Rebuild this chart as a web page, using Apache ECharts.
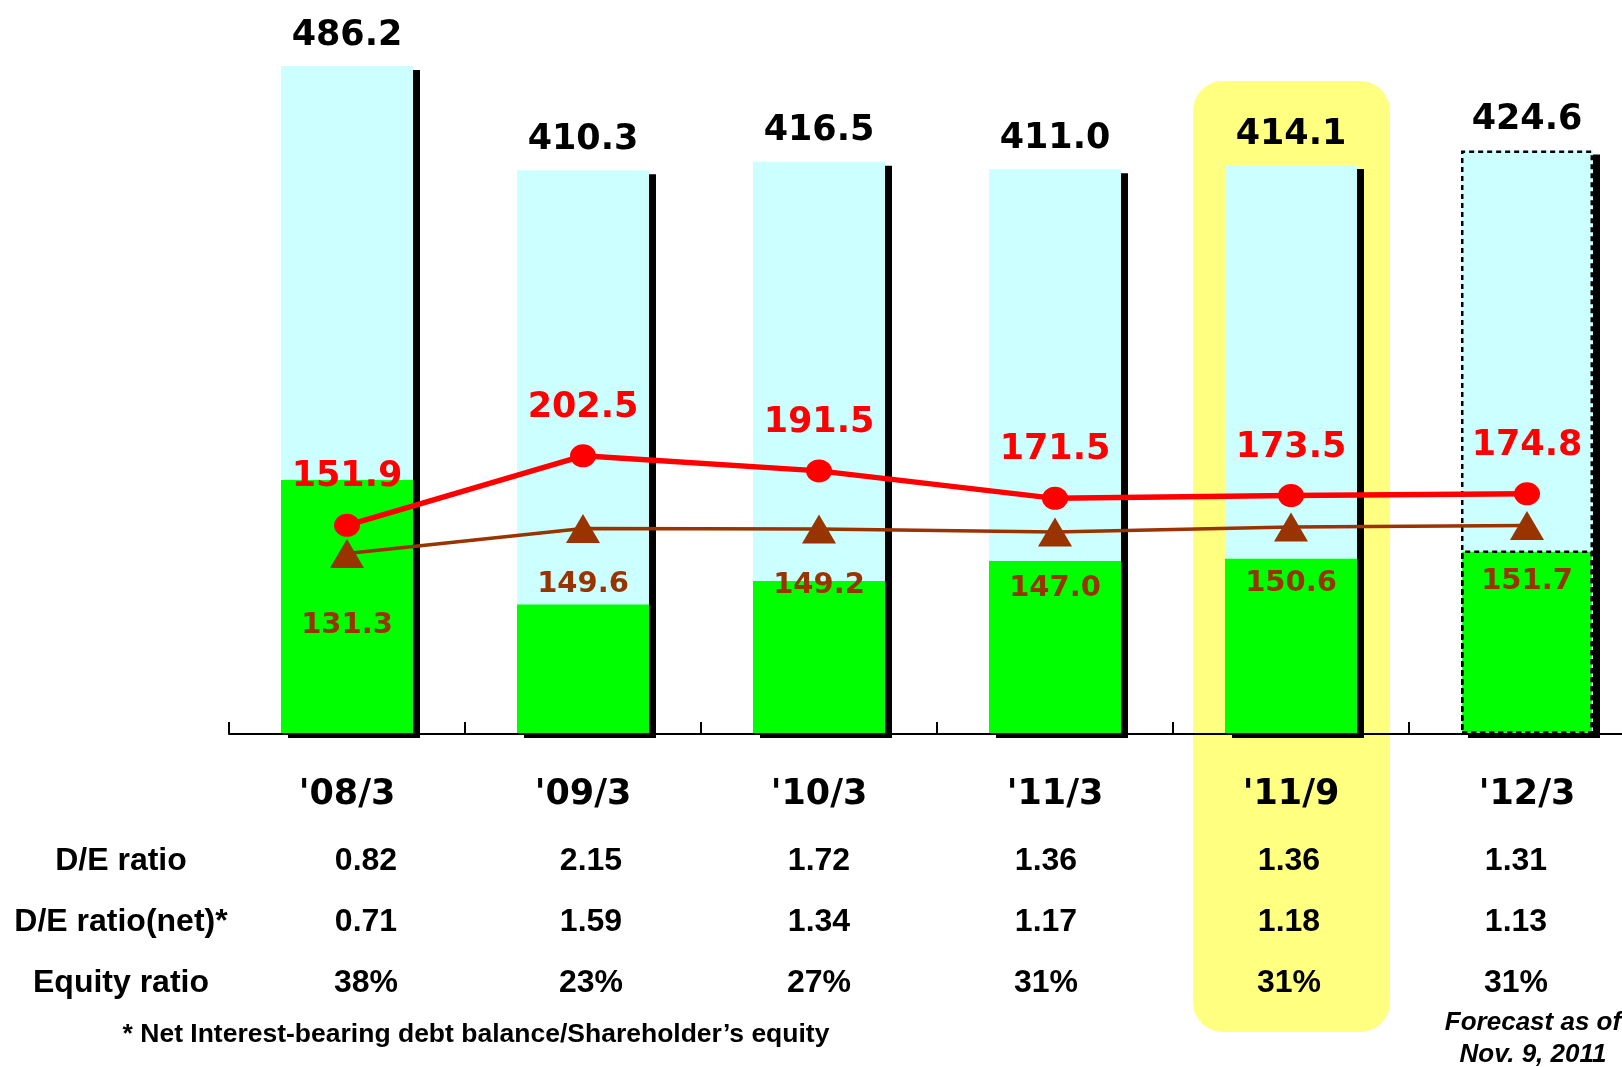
<!DOCTYPE html>
<html>
<head>
<meta charset="utf-8">
<title>Total assets / Interest-bearing debt</title>
<script src="https://cdn.jsdelivr.net/npm/echarts@6/dist/echarts.min.js"></script>
<style>
  html, body { margin: 0; padding: 0; background: #fff; }
  #chart { width: 1622px; height: 1067px; }
</style>
</head>
<body>
<div id="chart"></div>
<script>
// periods on the x axis
const periods = ["'08/3", "'09/3", "'10/3", "'11/3", "'11/9", "'12/3"];
// total assets (whole bar, label on top)
const totalAssets = [486.2, 410.3, 416.5, 411.0, 414.1, 424.6];
// shareholders' equity (green part of the bar)
const equity = [184.8, 94.2, 111.3, 126.0, 127.6, 133.5];
// interest-bearing debt (red line)
const debt = [151.9, 202.5, 191.5, 171.5, 173.5, 174.8];
// net interest-bearing debt (brown line)
const netDebt = [131.3, 149.6, 149.2, 147.0, 150.6, 151.7];
// table under the chart
const rowLabels = ['D/E ratio', 'D/E ratio(net)*', 'Equity ratio'];
const deRatio = ['0.82', '2.15', '1.72', '1.36', '1.36', '1.31'];
const deRatioNet = ['0.71', '1.59', '1.34', '1.17', '1.18', '1.13'];
const equityRatio = ['38%', '23%', '27%', '31%', '31%', '31%'];
const footnote = '* Net Interest-bearing debt balance/Shareholder\u2019s equity';
const forecastNote = ['Forecast as of', 'Nov. 9, 2011'];

const highlightIdx = 4; // '11/9 column sits on the yellow band
const forecastIdx = 5;  // '12/3 is a forecast -> dotted outline

const NUM_FONT = 'DejaVu Sans';
const TXT_FONT = '"Liberation Sans", Arial, sans-serif';
const cyan = '#ccffff';
const green = '#00ff00';
const red = '#ff0000';
const brown = '#993300';

const chart = echarts.init(document.getElementById('chart'));

const dashed = { borderColor: '#000', borderWidth: 2.5, borderType: [5, 4] };
const oneDecimal = p => Number(p.value).toFixed(1);

chart.setOption({
  animation: false,
  grid: { left: 229, width: 1416, top: 47, height: 687, outerBoundsMode: 'none' },
  xAxis: {
    type: 'category',
    data: periods,
    z: 10,
    axisLine: { lineStyle: { color: '#000', width: 2 } },
    axisTick: { show: true, interval: 0, alignWithLabel: false, inside: true, length: 12, lineStyle: { color: '#000', width: 2 } },
    axisLabel: {
      interval: 0,
      margin: 43,
      color: '#000',
      fontFamily: NUM_FONT,
      fontWeight: 'bold',
      fontSize: 35
    }
  },
  yAxis: { type: 'value', min: 0, max: 500, show: false },
  series: [
    {
      name: 'Total assets',
      type: 'bar',
      barWidth: 132,
      barGap: '-100%',
      data: totalAssets,
      itemStyle: { color: cyan, shadowColor: '#000', shadowBlur: 0, shadowOffsetX: 7, shadowOffsetY: 4 },
      label: {
        show: true,
        position: 'top',
        distance: 13,
        formatter: oneDecimal,
        color: '#000',
        fontFamily: NUM_FONT,
        fontWeight: 'bold',
        fontSize: 35
      },
      z: 2
    },
    {
      name: 'Equity',
      type: 'bar',
      barWidth: 132,
      barGap: '-100%',
      data: equity.map((v, i) => (i === forecastIdx ? { value: v, itemStyle: dashed } : v)),
      itemStyle: { color: green },
      z: 3
    },
    {
      // dotted outline of the forecast bar
      name: 'Forecast outline',
      type: 'bar',
      barWidth: 132,
      barGap: '-100%',
      data: totalAssets.map((v, i) => (i === forecastIdx ? v : '-')),
      itemStyle: Object.assign({ color: 'rgba(0,0,0,0)' }, dashed),
      silent: true,
      z: 3
    },
    {
      name: 'Net interest-bearing debt',
      type: 'line',
      data: netDebt.map((v, i) => (i === 0 ? { value: v, label: { distance: 43 } } : v)),
      symbol: 'triangle',
      symbolSize: [34, 29],
      lineStyle: { color: brown, width: 3.5 },
      itemStyle: { color: brown },
      label: {
        show: true,
        position: 'bottom',
        distance: 27,
        formatter: oneDecimal,
        color: brown,
        fontFamily: NUM_FONT,
        fontWeight: 'bold',
        fontSize: 29
      },
      z: 4
    },
    {
      name: 'Interest-bearing debt',
      type: 'line',
      data: debt,
      symbol: 'circle',
      symbolSize: [26, 23],
      lineStyle: { color: red, width: 5.5 },
      itemStyle: { color: red },
      label: {
        show: true,
        position: 'top',
        distance: 19,
        formatter: oneDecimal,
        color: red,
        fontFamily: NUM_FONT,
        fontWeight: 'bold',
        fontSize: 35
      },
      z: 5
    }
  ]
});

// table, highlight band and notes, placed from the category axis
const colX = i => chart.convertToPixel({ xAxisIndex: 0 }, i);
const tableNudge = [19, 8, 0, -9, -2, -11];
const rowY = [861, 922, 983];
const rows = [deRatio, deRatioNet, equityRatio];

const txt = (text, x, y, font) => ({
  type: 'text',
  z: 20,
  style: { text, x, y, font, fill: '#000', align: 'center', verticalAlign: 'middle' }
});

const elements = [];
const bandX = colX(highlightIdx);
elements.push({
  type: 'rect',
  z: -10,
  shape: { x: bandX - 98, y: 81, width: 197, height: 951, r: 30 },
  style: { fill: '#ffff80' }
});
rowLabels.forEach((label, r) => {
  elements.push(txt(label, 121, rowY[r], 'bold 32px ' + TXT_FONT));
  rows[r].forEach((v, i) => {
    elements.push(txt(v, colX(i) + tableNudge[i], rowY[r], 'bold 32px ' + TXT_FONT));
  });
});
elements.push(txt(footnote, 476, 1035, 'bold 26.5px ' + TXT_FONT));
elements.push(txt(forecastNote[0], 1533, 1023, 'italic bold 26px ' + TXT_FONT));
elements.push(txt(forecastNote[1], 1533, 1055, 'italic bold 26px ' + TXT_FONT));

chart.setOption({ graphic: { elements } });
window.addEventListener('resize', () => chart.resize());
</script>
</body>
</html>
